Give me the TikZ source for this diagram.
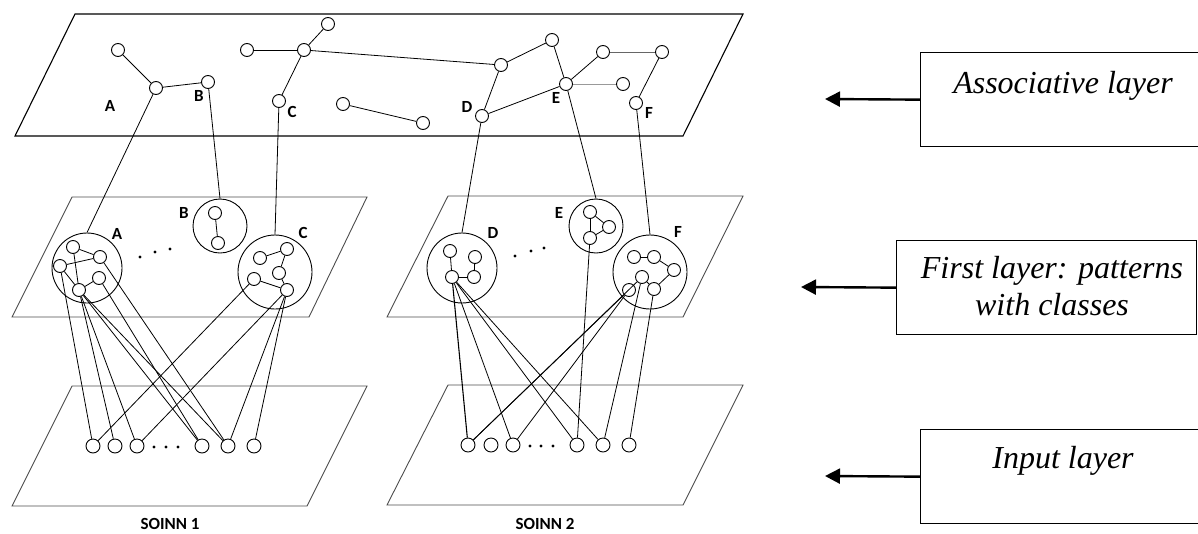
\documentclass[tikz,border=0pt]{standalone}
\usepackage{fontspec}
\setmainfont{Liberation Serif}
\newfontfamily\lblfont{Carlito}[BoldFont={Carlito Bold}]
\usetikzlibrary{arrows.meta}
\begin{document}
\begin{tikzpicture}[x=1pt,y=-1pt,
 nd/.style={circle,draw,line width=0.9pt,minimum size=13pt,inner sep=0pt},
 inp/.style={nd,minimum size=14pt},
 clus/.style={circle,draw,line width=0.9pt,inner sep=0pt},
 lnk/.style={line width=0.8pt},
 plane/.style={line width=1.1pt},
 lplane/.style={line width=0.9pt,draw=black!70},
 lbl/.style={font=\lblfont\bfseries\fontsize{17}{17}\selectfont,inner sep=0pt},
 soinn/.style={font=\lblfont\bfseries\fontsize{17}{17}\selectfont,inner sep=0pt,anchor=north},
 dotn/.style={circle,fill,inner sep=0pt,minimum size=3.2pt},
 box/.style={draw,line width=1.3pt,inner sep=0pt,anchor=north west,minimum width=300pt},
 boxtxt/.style={font=\itshape\fontsize{32}{37}\selectfont,anchor=base,inner sep=0pt},
 arr/.style={line width=2.4pt,-{Triangle[length=15pt,width=15pt]}}
]
\useasboundingbox (0,0) rectangle (1198,533);
\clip (0,0) rectangle (1198,533);

% ---------- planes ----------
\draw[plane] (75,14) -- (743,14) -- (683,136) -- (15,136) -- cycle;
\draw[lplane] (72,197) -- (367,197) -- (309,317) -- (12,317) -- cycle;
\draw[lplane] (448,196) -- (743,196) -- (683,317) -- (387,317) -- cycle;
\draw[lplane] (72,386) -- (367,386) -- (307,506) -- (12,506) -- cycle;
\draw[lplane] (448,385) -- (743,385) -- (683,505) -- (387,505) -- cycle;

% ---------- associative layer ----------
\node[nd] (a1) at (118,50) {};
\node[nd] (aA) at (156,88) {};
\node[nd] (aB) at (208,82) {};
\node[nd] (a2) at (247,50) {};
\node[nd] (a3) at (304,50) {};
\node[nd] (a4) at (328,24) {};
\node[nd] (aC) at (279,101) {};
\node[nd] (a5) at (343,104) {};
\node[nd] (a6) at (423,123) {};
\node[nd] (a7) at (501,65) {};
\node[nd] (a8) at (552,40) {};
\node[nd] (aD) at (482,116) {};
\node[nd] (aE) at (566,84) {};
\node[nd] (a9) at (603,52) {};
\node[nd] (a10) at (662,52) {};
\node[nd] (a11) at (623,84) {};
\node[nd] (aF) at (636,103) {};

\draw[lnk] (a1) -- (aA);
\draw[lnk] (aA) -- (aB);
\draw[lnk] (a2) -- (a3);
\draw[lnk] (a3) -- (a4);
\draw[lnk] (a3) -- (aC);
\draw[lnk] (a3) -- (a7);
\draw[lnk] (a7) -- (a8);
\draw[lnk] (a7) -- (aD);
\draw[lnk] (aD) -- (aE);
\draw[lnk] (a8) -- (aE);
\draw[lnk] (aE) -- (a9);
\draw[lnk,draw=black!60] (a9) -- (a10);
\draw[lnk] (a10) -- (aF);
\draw[lnk,draw=black!40] (aE) -- (a11);
\draw[lnk] (a5) -- (a6);

\node[lbl] (lA) at (110,106) {A};
\node[lbl] (lB) at (199,96) {B};
\node[lbl] (lC) at (292,112) {C};
\node[lbl] (lD) at (467,107) {D};
\node[lbl] (lE) at (556,98) {E};
\node[lbl] (lF) at (649,113) {F};

% ---------- first layer clusters ----------
\node[clus,minimum size=70pt] (cA) at (87,268) {};
\node[clus,minimum size=54pt] (cB) at (220,226) {};
\node[clus,minimum size=74pt] (cC) at (275,272) {};
\node[clus,minimum size=70pt] (cD) at (462,268) {};
\node[clus,minimum size=54pt] (cE) at (596,226) {};
\node[clus,minimum size=74pt] (cF) at (650,272) {};

\node[lbl] (mA) at (117,234) {A};
\node[lbl] (mB) at (184,213) {B};
\node[lbl] (mC) at (303,233) {C};
\node[lbl] (mD) at (493,233) {D};
\node[lbl] (mE) at (559,213) {E};
\node[lbl] (mF) at (678,232) {F};

\draw[lnk] (aA) -- (cA.north);
\draw[lnk] (aB) -- (cB.north);
\draw[lnk] (aC) -- (cC.north);
\draw[lnk] (aD) -- (cD.north);
\draw[lnk] (aE) -- (cE.north);
\draw[lnk] (aF) -- (cF.north);

% cluster A
\node[nd] (A1) at (73,247) {};
\node[nd] (A2) at (100,257) {};
\node[nd] (A3) at (60,266) {};
\node[nd] (A4) at (99,278) {};
\node[nd] (A5) at (79,290) {};
\draw[lnk] (A1) -- (A2);
\draw[lnk] (A1) -- (A5);
\draw[lnk] (A3) -- (A2);
\draw[lnk] (A3) -- (A5);
\draw[lnk] (A5) -- (A4);
% cluster B
\node[nd] (B1) at (215,213) {};
\node[nd] (B2) at (218,243) {};
\draw[lnk] (B1) -- (B2);
% cluster C
\node[nd] (C1) at (260,258) {};
\node[nd] (C2) at (287,249) {};
\node[nd] (C3) at (279,273) {};
\node[nd] (C4) at (254,279) {};
\node[nd] (C5) at (287,290) {};
\draw[lnk] (C1) -- (C2);
\draw[lnk] (C2) -- (C3);
\draw[lnk] (C3) -- (C5);
\draw[lnk] (C4) -- (C5);
% cluster D
\node[nd] (D1) at (450,251) {};
\node[nd] (D2) at (475,257) {};
\node[nd] (D3) at (452,277) {};
\node[nd] (D4) at (474,277) {};
\draw[lnk] (D1) -- (D3);
\draw[lnk] (D3) -- (D4);
\draw[lnk] (D4) -- (D2);
% cluster E
\node[nd] (E1) at (590,212) {};
\node[nd] (E2) at (609,227) {};
\node[nd] (E3) at (590,238) {};
\draw[lnk] (E1) -- (E2);
\draw[lnk] (E1) -- (E3);
\draw[lnk] (E3) -- (E2);
% cluster F
\node[nd] (F1) at (634,257) {};
\node[nd] (F2) at (654,257) {};
\node[nd] (F3) at (674,270) {};
\node[nd] (F4) at (642,277) {};
\node[nd] (F5) at (629,290) {};
\node[nd] (F6) at (654,289) {};
\draw[lnk] (F1) -- (F2);
\draw[lnk] (F2) -- (F3);
\draw[lnk] (F3) -- (F6);
\draw[lnk] (F4) -- (F6);

% dots in first layer
\node[dotn] (dl1) at (140,257) {};
\node[dotn] (dl2) at (155,252) {};
\node[dotn] (dl3) at (170,249) {};
\node[dotn] (dr1) at (515,256) {};
\node[dotn] (dr2) at (531,251) {};
\node[dotn] (dr3) at (544,248) {};

% ---------- input layer ----------
\node[inp] (L1) at (93,446) {};
\node[inp] (L2) at (115,446) {};
\node[inp] (L3) at (137,446) {};
\node[inp] (L4) at (202,446) {};
\node[inp] (L5) at (228,446) {};
\node[inp] (L6) at (254,446) {};
\node[dotn] (il1) at (154,447) {};
\node[dotn] (il2) at (166,447) {};
\node[dotn] (il3) at (178,447) {};

\node[inp] (R1) at (468,445) {};
\node[inp] (R2) at (491,445) {};
\node[inp] (R3) at (513,445) {};
\node[inp] (R4) at (577,445) {};
\node[inp] (R5) at (603,445) {};
\node[inp] (R6) at (629,445) {};
\node[dotn] (ir1) at (530,446) {};
\node[dotn] (ir2) at (541,446) {};
\node[dotn] (ir3) at (553,446) {};

% links first layer -> input (SOINN 1)
\draw[lnk] (A3) -- (L1);
\draw[lnk] (A5) -- (L2);
\draw[lnk] (A5) -- (L3);
\draw[lnk] (A5) -- (L4);
\draw[lnk] (A4) -- (L4);
\draw[lnk] (A5) -- (L5);
\draw[lnk] (A2) -- (L5);
\draw[lnk] (C4) -- (L1);
\draw[lnk] (C5) -- (L3);
\draw[lnk] (C5) -- (L5);
\draw[lnk] (C5) -- (L6);

% links first layer -> input (SOINN 2)
\draw[lnk,line width=1.1pt] (D3) -- (R1);
\draw[lnk] (D3) -- (R3);
\draw[lnk] (D3) -- (R4);
\draw[lnk] (D3) -- (R5);
\draw[lnk] (E3) -- (R4);
\draw[lnk] (F5) -- (R1);
\draw[lnk] (F5) -- (R3);
\draw[lnk] (F4) -- (R1);
\draw[lnk] (F4) -- (R5);
\draw[lnk] (F6) -- (R6);

\node[soinn] (s1) at (170,518) {SOINN 1};
\node[soinn] (s2) at (545,518) {SOINN 2};

% ---------- legend boxes ----------
\node[box,minimum height=94pt] (b1) at (920,52) {};
\node[box,minimum height=94pt] (b2) at (896,240) {};
\node[box,minimum height=94pt] (b3) at (920,429) {};
\node[boxtxt] (t1) at (1063,93) {Associative layer};
\node[boxtxt] (t2a) at (1052,278) {First layer: patterns};
\node[boxtxt] (t2b) at (1052,315) {with classes};
\node[boxtxt] (t3) at (1063,468) {Input layer};
\coordinate (e1) at (825,99);
\coordinate (e2) at (801,287);
\coordinate (e3) at (825,476);
\draw[arr] (b1.west) -- (e1);
\draw[arr] (b2.west) -- (e2);
\draw[arr] (b3.west) -- (e3);
\end{tikzpicture}
\end{document}
